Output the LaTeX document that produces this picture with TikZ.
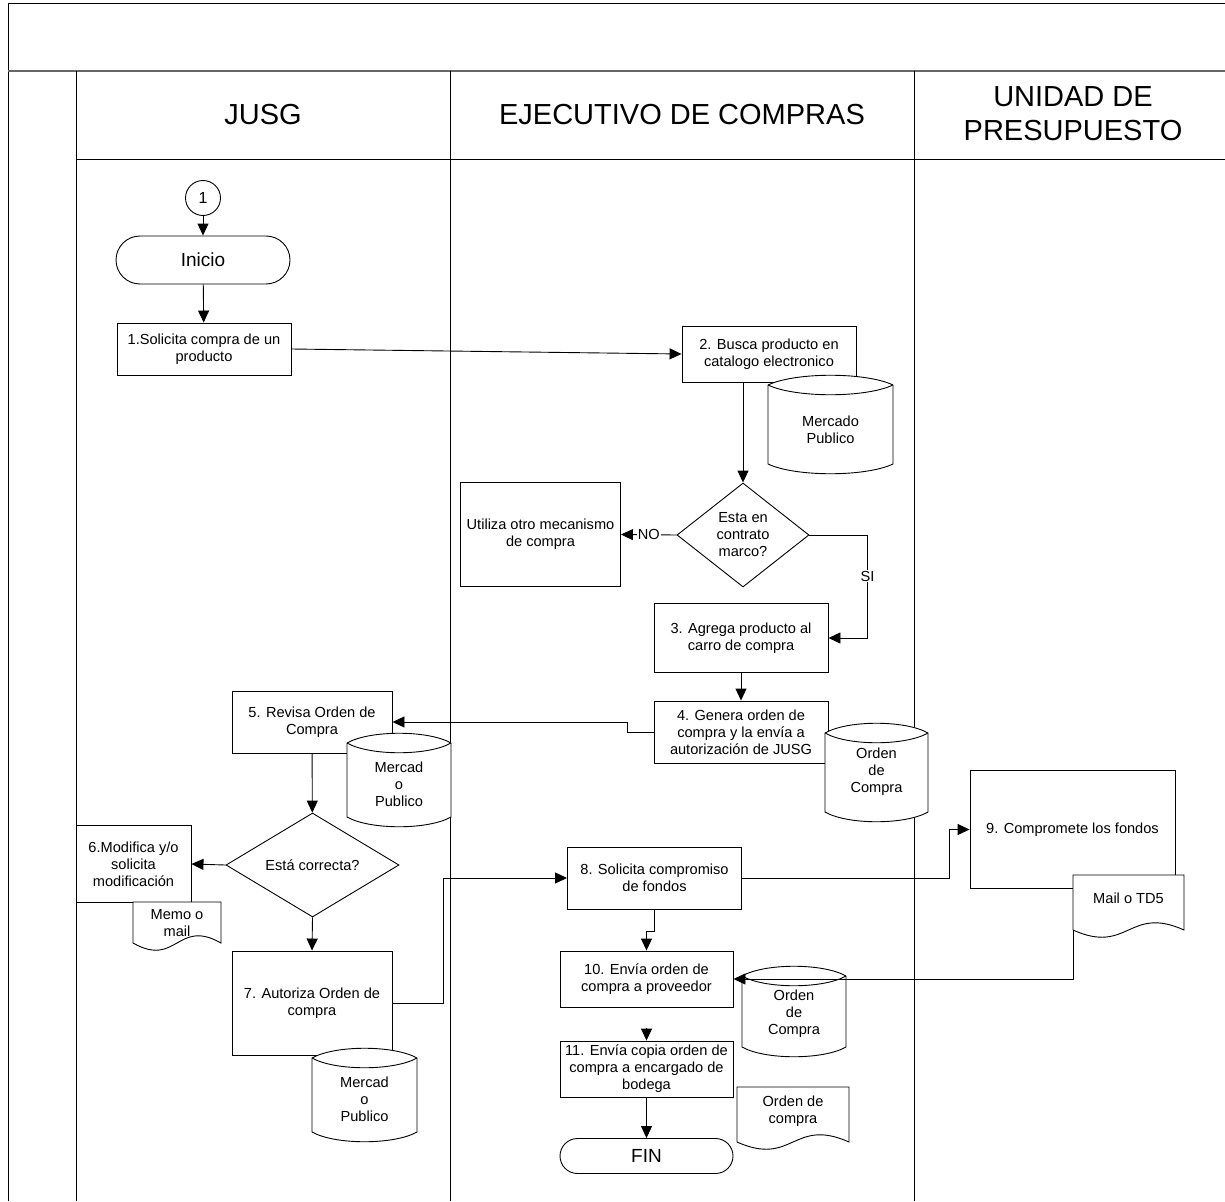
\documentclass[tikz,border=0pt]{standalone}
\usepackage{fontspec}
\setmainfont{Liberation Sans}
\usetikzlibrary{arrows.meta,shapes.geometric,shapes.misc}

% stored-data cylinder: name, left, right, top corner y, bottom corner y, text y, text
\newcommand{\dbshape}[7]{%
  \pgfmathsetmacro{\dbxa}{#2+0.22*(#3-#2)}%
  \pgfmathsetmacro{\dbxb}{#2+0.78*(#3-#2)}%
  \filldraw[shapeline] (#2,#4) .. controls (\dbxa,#4-13) and (\dbxb,#4-13) .. (#3,#4)
     -- (#3,#5) .. controls (\dbxb,#5+13) and (\dbxa,#5+13) .. (#2,#5) -- cycle;
  \draw[shapeline] (#2,#4) .. controls (\dbxa,#4+13) and (\dbxb,#4+13) .. (#3,#4);
  \node[bodytext] (#1) at ({(#2+#3)/2},#6) {#7};
}
% document with wavy bottom: name, left, right, top, side bottom y, text y, text
\newcommand{\docshape}[7]{%
  \filldraw[shapeline] (#2,#4) -- (#2,#5)
     .. controls ({(#2+#3)/2},#5+25) and ({(#2+#3)/2},#5-25) .. (#3,#5) -- (#3,#4) -- cycle;
  \node[bodytext] (#1) at ({(#2+#3)/2},#6) {#7};
}

\begin{document}
\begin{tikzpicture}[x=1pt,y=-1pt,
  shapeline/.style={draw=black, fill=white, line width=0.9pt},
  bodytext/.style={align=center, inner sep=0pt, font=\fontsize{14.6}{17}\selectfont},
  stepbox/.style={shapeline, bodytext, rectangle},
  term/.style={shapeline, rounded rectangle, inner sep=0pt, font=\fontsize{19}{22}\selectfont},
  decision/.style={shapeline, bodytext, diamond},
  lanehead/.style={align=center, inner sep=0pt, font=\fontsize{29}{34}\selectfont},
  frame/.style={line width=0.9pt, draw=black},
  arr/.style={line width=0.9pt, -{Triangle[length=12pt,width=11pt]}},
  lbl/.style={fill=white, inner sep=1pt, font=\fontsize{14.6}{17}\selectfont}
]
\useasboundingbox (0,0) rectangle (1225,1201);

% pool frame and swimlanes
\draw[frame] (8,1201) -- (8,3) -- (1225,3);
\draw[line width=2.2pt, draw=black!60] (8,71) -- (1225,71);
\draw[frame] (76,71) -- (76,1201);
\draw[frame] (450,71) -- (450,1201);
\draw[frame] (914,71) -- (914,1201);
\draw[frame] (76,159) -- (1225,159);

\node[lanehead] (hjusg) at (263,115) {JUSG};
\node[lanehead] (hejec) at (682,115) {EJECUTIVO DE COMPRAS};
\node[lanehead] (hunid) at (1073,114) {UNIDAD DE\\PRESUPUESTO};

% JUSG lane
\node[shapeline, circle, minimum size=35pt, inner sep=0pt, font=\fontsize{16}{18}\selectfont] (c1) at (203,198) {1};
\node[term, minimum width=174pt, minimum height=48pt] (inicio) at (203,260) {Inicio};
\node[stepbox, minimum width=174pt, minimum height=52pt] (s1) at (204,349) {1.Solicita compra de un\\producto};
\node[stepbox, minimum width=160pt, minimum height=62pt] (s5) at (312,722) {5. Revisa Orden de\\Compra};
\node[decision, minimum width=173pt, minimum height=104pt, shape aspect=1.66] (d2) at (312.5,865) {Está correcta?};
\node[stepbox, minimum width=115pt, minimum height=77pt] (s6) at (133.5,864) {6.Modifica y/o\\solicita\\modificación};
\node[stepbox, minimum width=160pt, minimum height=104pt] (s7) at (312,1003) {7. Autoriza Orden de\\compra};

% Ejecutivo de compras lane
\node[stepbox, minimum width=174pt, minimum height=56pt] (s2) at (769,354) {2. Busca producto en\\catalogo electronico};
\node[decision, minimum width=132pt, minimum height=104pt, shape aspect=1.27] (d1) at (743,535) {Esta en\\contrato\\marco?};
\node[stepbox, minimum width=160pt, minimum height=104pt] (alt) at (540.5,534.5) {Utiliza otro mecanismo\\de compra};
\node[stepbox, minimum width=174pt, minimum height=69pt] (s3) at (741,638) {3. Agrega producto al\\carro de compra};
\node[stepbox, minimum width=174pt, minimum height=62pt] (s4) at (741,732) {4. Genera orden de\\compra y la envía a\\autorización de JUSG};
\node[stepbox, minimum width=174pt, minimum height=62pt] (s8) at (654.5,878) {8. Solicita compromiso\\de fondos};
\node[stepbox, minimum width=173pt, minimum height=56pt] (s10) at (646.5,979) {10. Envía orden de\\compra a proveedor};
\node[stepbox, minimum width=173pt, minimum height=56pt] (s11) at (646.5,1069) {11. Envía copia orden de\\compra a encargado de\\bodega};
\node[term, minimum width=173pt, minimum height=35pt] (fin) at (646.5,1156) {FIN};

% Unidad de presupuesto lane
\node[stepbox, minimum width=205pt, minimum height=118pt] (s9) at (1072.5,829.5) {9. Compromete los fondos};

% data stores and documents
\dbshape{db1}{768}{893}{385}{464}{430}{Mercado\\Publico}
\dbshape{db2}{825}{928}{733}{812}{772}{Orden\\de\\Compra}
\dbshape{db3}{347}{451}{743}{817}{784}{Mercad\\o\\Publico}
\dbshape{db4}{312}{417}{1058}{1132}{1099}{Mercad\\o\\Publico}
\dbshape{db5}{742}{846}{976}{1047}{1014}{Orden\\de\\Compra}
\docshape{doc1}{133}{221}{902}{943}{923}{Memo o\\mail}
\docshape{doc2}{1073}{1184}{875}{930}{898}{Mail o TD5}
\docshape{doc3}{737}{849}{1087}{1142}{1111}{Orden de\\compra}
\coordinate (doc2foot) at (1073,930);

% flow
\draw[arr] (c1) -- (inicio);
\draw[arr] (inicio) -- (s1);
\draw[arr] (s1.east) -- (s2.west);
\draw[arr] (s2.south -| d1.north) -- (d1.north);
\draw[arr] (d1.west) -- node[lbl] {NO} (alt.east);
\draw[arr] (d1.east) -- ++(58,0) |- node[lbl, pos=0.2] {SI} (s3.east);
\draw[arr] (s3) -- (s4);
\draw[arr] (s4.west) -- ++(-26,0) |- (s5.east);
\draw[arr] (s5) -- (d2);
\draw[arr] (d2.west) -- (s6.east);
\draw[arr] (d2.south) -- (s7.north);
\draw[arr] (s7.east) -- ++(51,0) |- (s8.west);
\draw[arr] (s8.east) -- ++(207,0) |- (s9.west);
\draw[arr] (s8.south) -- ++(0,22) -| (s10.north);
\draw[arr] (doc2foot) |- (s10.east);
\draw[arr, shorten <=21pt] (s10.south) -- (s11.north);
\draw[arr] (s11) -- (fin);
\end{tikzpicture}
\end{document}
